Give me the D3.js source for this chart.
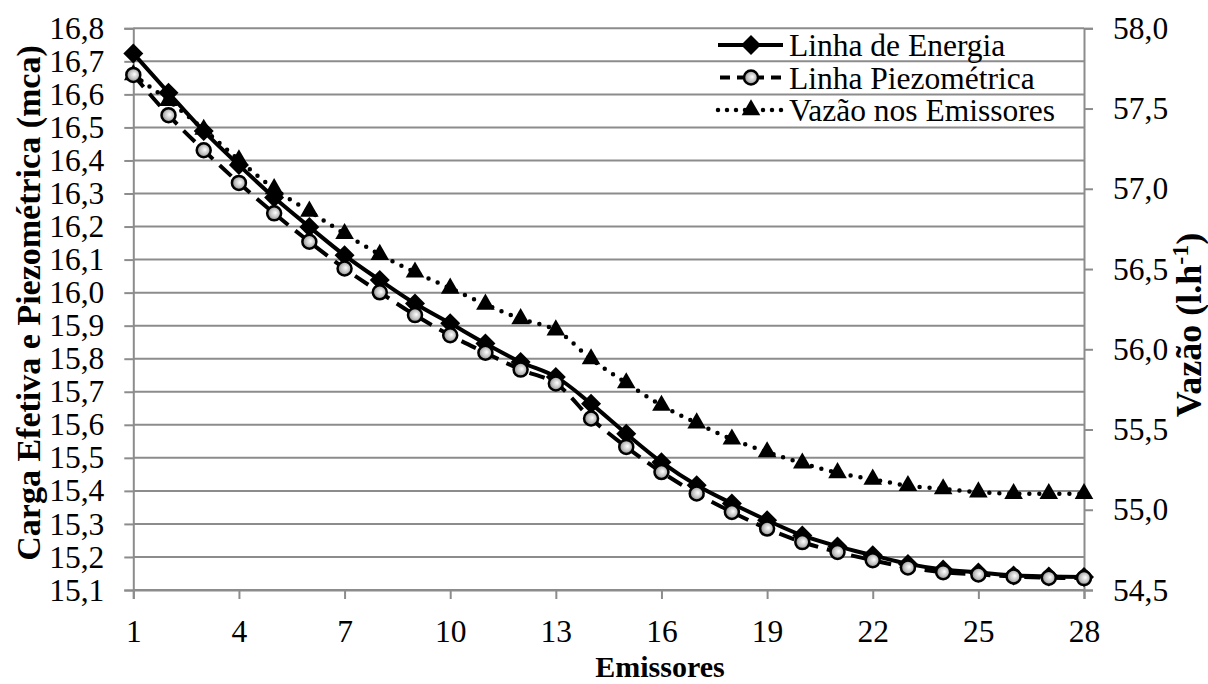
<!DOCTYPE html>
<html>
<head>
<meta charset="utf-8">
<script src="https://cdnjs.cloudflare.com/ajax/libs/d3/7.8.5/d3.min.js"></script>
<style>
  body { margin: 0; background: #fff; }
  svg { display: block; }
  text { font-family: "Liberation Serif", "Times New Roman", serif; fill: #000; }
</style>
</head>
<body>
<svg width="1208" height="684"></svg>
<script>
// emitter number on the x axis
var emissores = d3.range(1, 29);

// Linha de Energia (mca), left axis
var energia = [16.724, 16.605, 16.489, 16.386, 16.288, 16.199, 16.113, 16.038, 15.967, 15.907,
    15.846, 15.790, 15.745, 15.664, 15.573, 15.487, 15.417, 15.362, 15.311, 15.265,
    15.232, 15.205, 15.179, 15.162, 15.153, 15.144, 15.141, 15.139];

// Linha Piezométrica (mca), left axis
var piezometrica = [16.659, 16.537, 16.431, 16.332, 16.240, 16.154, 16.073, 16.001, 15.932, 15.871,
    15.818, 15.767, 15.725, 15.619, 15.533, 15.457, 15.392, 15.336, 15.286, 15.245,
    15.215, 15.190, 15.168, 15.154, 15.147, 15.141, 15.137, 15.136];

// Vazão nos Emissores (l/h), right axis
var vazao = [57.71, 57.55, 57.37, 57.18, 57.00, 56.86, 56.72, 56.59, 56.48, 56.38,
    56.28, 56.19, 56.12, 55.94, 55.79, 55.65, 55.54, 55.44, 55.36, 55.29,
    55.23, 55.19, 55.15, 55.13, 55.11, 55.10, 55.10, 55.10];

var xTicks = [1, 4, 7, 10, 13, 16, 19, 22, 25, 28];
var leftTicks = d3.range(0, 18).map(function(i) { return +(15.1 + i * 0.1).toFixed(1); });
var rightTicks = d3.range(0, 8).map(function(i) { return 54.5 + i * 0.5; });

function draw() {
    var svg = d3.select("svg");
    var pLeft = 133.3, pRight = 1084, pTop = 28.3, pBottom = 590;
    var fmt = function(d) { return d3.format(".1f")(d).replace(".", ","); };

    var x = d3.scaleLinear().domain([1, 28]).range([pLeft, pRight]);
    var yL = d3.scaleLinear().domain([15.1, 16.8]).range([pBottom, pTop]);
    var yR = d3.scaleLinear().domain([54.5, 58]).range([pBottom, pTop]);

    // gradient for the circle markers
    var grad = svg.append("defs").append("radialGradient")
        .attr("id", "ball").attr("cx", "50%").attr("cy", "50%").attr("r", "60%")
        .attr("fx", "60%").attr("fy", "45%");
    grad.append("stop").attr("offset", "0%").attr("stop-color", "#ffffff");
    grad.append("stop").attr("offset", "50%").attr("stop-color", "#c4c4c4");
    grad.append("stop").attr("offset", "100%").attr("stop-color", "#6a6a6a");

    // gridlines
    svg.append("g").selectAll("line")
        .data(leftTicks)
        .enter().append("line")
        .attr("x1", pLeft).attr("x2", pRight)
        .attr("y1", function(d) { return yL(d); })
        .attr("y2", function(d) { return yL(d); })
        .attr("stroke", "#8c8c8c").attr("stroke-width", 2);

    // axes
    var axisL = svg.append("g").attr("transform", "translate(" + pLeft + ",0)")
        .call(d3.axisLeft(yL).tickValues(leftTicks).tickFormat(fmt).tickSize(9).tickPadding(20));
    var axisR = svg.append("g").attr("transform", "translate(" + pRight + ",0)")
        .call(d3.axisRight(yR).tickValues(rightTicks).tickFormat(fmt).tickSize(9).tickPadding(20));
    var axisB = svg.append("g").attr("transform", "translate(0," + pBottom + ")")
        .call(d3.axisBottom(x).tickValues(xTicks).tickSize(9).tickPadding(21));

    [axisL, axisR, axisB].forEach(function(a) {
        a.select(".domain").attr("stroke", "#8c8c8c").attr("stroke-width", 2);
        a.selectAll(".tick line").attr("stroke", "#8c8c8c").attr("stroke-width", 2);
        a.selectAll("text").style("font-size", "31.5px").style("font-family", "Liberation Serif").attr("fill", "#000");
    });

    // series lines
    var curve = d3.curveCatmullRom.alpha(0.5);
    function lineFor(vals, y) {
        return d3.line().curve(curve)
            .x(function(d, i) { return x(emissores[i]); })
            .y(function(d) { return y(d); })(vals);
    }

    svg.append("path").attr("d", lineFor(vazao, yR))
        .attr("fill", "none").attr("stroke", "#000").attr("stroke-width", 4.5)
        .attr("stroke-linecap", "round").attr("stroke-dasharray", "0 10");
    svg.append("path").attr("d", lineFor(energia, yL))
        .attr("fill", "none").attr("stroke", "#000").attr("stroke-width", 4);
    svg.append("path").attr("d", lineFor(piezometrica, yL))
        .attr("fill", "none").attr("stroke", "#000").attr("stroke-width", 4)
        .attr("stroke-dasharray", "16 9");

    // markers
    var tri = d3.symbol().type(d3.symbolTriangle).size(150);
    var dia = d3.symbol().type(d3.symbolSquare).size(200);

    svg.append("g").selectAll("path")
        .data(vazao)
        .enter().append("path")
        .attr("d", tri)
        .attr("transform", function(d, i) { return "translate(" + x(emissores[i]) + "," + yR(d) + ")"; })
        .attr("fill", "#000");

    svg.append("g").selectAll("path")
        .data(energia)
        .enter().append("path")
        .attr("d", dia)
        .attr("transform", function(d, i) { return "translate(" + x(emissores[i]) + "," + yL(d) + ") rotate(45)"; })
        .attr("fill", "#000");

    svg.append("g").selectAll("circle")
        .data(piezometrica)
        .enter().append("circle")
        .attr("cx", function(d, i) { return x(emissores[i]); })
        .attr("cy", function(d) { return yL(d); })
        .attr("r", 7)
        .attr("fill", "url(#ball)")
        .attr("stroke", "#000").attr("stroke-width", 2.5);

    // axis titles
    svg.append("text")
        .attr("transform", "translate(40,303) rotate(-90)")
        .attr("text-anchor", "middle")
        .style("font-size", "34px").style("font-weight", "bold")
        .text("Carga Efetiva e Piezométrica (mca)");

    svg.append("text")
        .attr("x", 660).attr("y", 677)
        .attr("text-anchor", "middle")
        .style("font-size", "30px").style("font-weight", "bold")
        .text("Emissores");

    var rt = svg.append("text")
        .attr("transform", "translate(1201,325) rotate(-90)")
        .attr("text-anchor", "middle")
        .style("font-size", "36px").style("font-weight", "bold");
    rt.append("tspan").text("Vazão (l.h");
    rt.append("tspan").attr("dy", -13).style("font-size", "24px").text("-1");
    rt.append("tspan").attr("dy", 13).text(")");

    // legend
    var legendItems = [
        { name: "Linha de Energia", kind: "energia" },
        { name: "Linha Piezométrica", kind: "piezo" },
        { name: "Vazão nos Emissores", kind: "vazao" }
    ];
    var lg = svg.append("g");
    legendItems.forEach(function(item, i) {
        var cy = 45 + i * 32.5;
        var row = lg.append("g");
        var ln = row.append("line").attr("x1", 718).attr("x2", 783).attr("y1", cy).attr("y2", cy)
            .attr("stroke", "#000").attr("stroke-width", 4);
        if (item.kind === "energia") {
            row.append("path").attr("d", dia).attr("transform", "translate(751," + cy + ") rotate(45)");
        } else if (item.kind === "piezo") {
            ln.attr("stroke-dasharray", "10 7").attr("stroke-dashoffset", -2);
            row.append("circle").attr("cx", 751).attr("cy", cy).attr("r", 7)
                .attr("fill", "url(#ball)").attr("stroke", "#000").attr("stroke-width", 2.5);
        } else {
            ln.attr("stroke-width", 4.5).attr("stroke-linecap", "round").attr("stroke-dasharray", "0 9");
            row.append("path").attr("d", tri).attr("transform", "translate(751," + cy + ")");
        }
        row.append("text").attr("x", 789).attr("y", cy).attr("dy", "0.35em")
            .style("font-size", "31.5px").text(item.name);
    });
}

draw();
</script>
</body>
</html>
